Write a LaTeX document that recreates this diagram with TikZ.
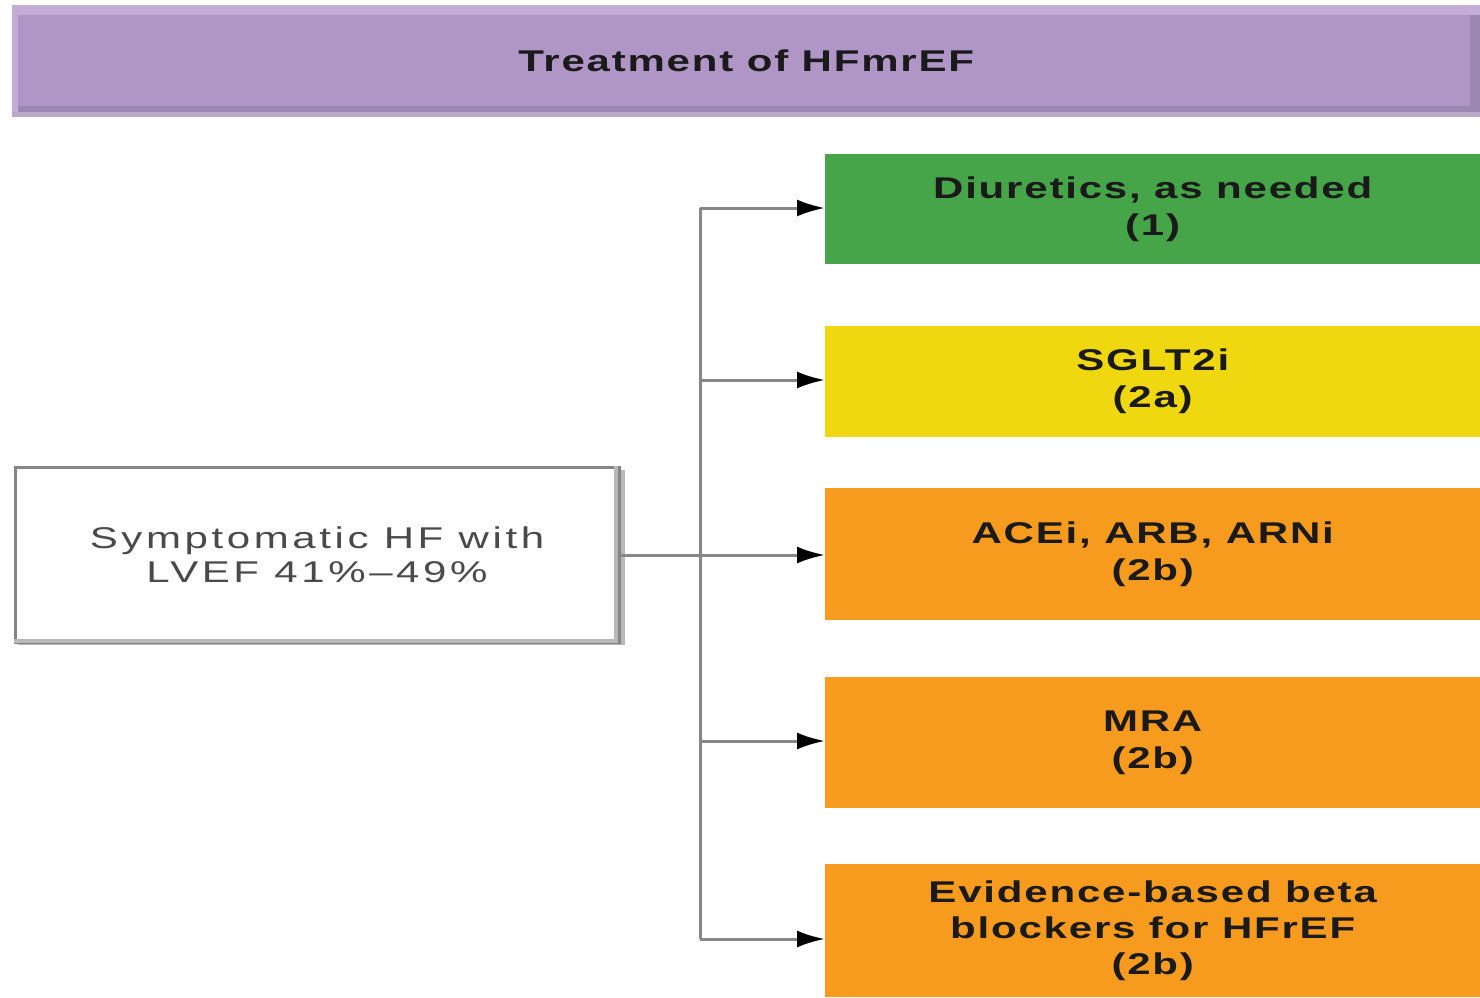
\documentclass[tikz,border=0pt]{standalone}
\usepackage{fontspec}
\setmainfont{Liberation Sans}[FakeStretch=1.4, LetterSpace=6]
\newfontfamily\plainfont{Liberation Sans}[FakeStretch=1.4, LetterSpace=12]
\usetikzlibrary{arrows.meta}

\definecolor{titlebg}{HTML}{AF96C7}
\definecolor{titlelight}{HTML}{C2ADD6}
\definecolor{titledark}{HTML}{9C86B2}
\definecolor{titlerim}{HTML}{B9A8CA}
\definecolor{recgreen}{HTML}{46A548}
\definecolor{recyellow}{HTML}{EFD80F}
\definecolor{recorange}{HTML}{F79B1F}
\definecolor{linkgray}{HTML}{878787}
\definecolor{edgegray}{HTML}{858585}
\definecolor{shadegray}{HTML}{B8B8B8}
\definecolor{inktext}{HTML}{1A1A1A}
\definecolor{softtext}{HTML}{4A4A4A}

\tikzset{
  recbox/.style={draw=none, anchor=north west, minimum width=655, inner sep=0,
    align=center, text=inktext, font=\fontsize{30}{37}\selectfont\bfseries},
  conn/.style={draw=linkgray, line width=3},
  arrowconn/.style={conn, -{Latex[length=28, width=17]}, arrows={[color=black]}}
}

\begin{document}
\begin{tikzpicture}[x=1pt, y=-1pt]
\useasboundingbox (0,0) rectangle (1480,997);

% heading bar
\node[fill=titlebg, draw=none, anchor=north west, minimum width=1468, minimum height=112,
  inner sep=0, text=inktext, font=\fontsize{30}{36}\selectfont\bfseries]
  (title) at (12,5) {Treatment of HFmrEF};
\fill[titlelight] (12,5) rectangle (1480,15);
\fill[titlelight] (12,5) rectangle (18,112);
\fill[titledark] (18,106) rectangle (1480,112);
\fill[titlerim] (12,112) rectangle (1480,117);
\fill[titledark] (1470,15) rectangle (1480,112);

% starting condition
\fill[shadegray] (18,637) rectangle (625,645);
\fill[shadegray] (616,470) rectangle (625,645);
\node[draw=edgegray, line width=3, fill=white, anchor=north west, minimum width=604,
  minimum height=175, inner sep=0, align=center, text=softtext,
  font=\fontsize{30}{34}\plainfont] (hf) at (13.5,465.5)
  {Symptomatic HF with\\LVEF 41\%–49\%};
\draw[shadegray, line width=4] (616,466) -- (616,641) -- (14,641);

% recommended therapies
\node[recbox, fill=recgreen, minimum height=110] (diur) at (825,154)
  {Diuretics, as needed\\(1)};
\node[recbox, fill=recyellow, minimum height=111] (sglt) at (825,326)
  {SGLT2i\\(2a)};
\node[recbox, fill=recorange, minimum height=132] (acei) at (825,488)
  {ACEi, ARB, ARNi\\(2b)};
\node[recbox, fill=recorange, minimum height=131] (mra) at (825,677)
  {MRA\\(2b)};
\node[recbox, fill=recorange, minimum height=133, font=\fontsize{30}{36}\selectfont\bfseries]
  (beta) at (825,864)
  {Evidence-based beta\\blockers for HFrEF\\(2b)};

% branching connectors
\coordinate (t1) at (700,208);
\coordinate (t2) at (700,380);
\coordinate (t3) at (700,555);
\coordinate (t4) at (700,741);
\coordinate (t5) at (700,939);

\draw[conn] (t1) -- (t5);
\draw[conn] (hf.east |- t3) -- (t3);
\draw[arrowconn] (t1) -- (t1 -| diur.west);
\draw[arrowconn] (t2) -- (t2 -| sglt.west);
\draw[arrowconn] (t3) -- (t3 -| acei.west);
\draw[arrowconn] (t4) -- (t4 -| mra.west);
\draw[arrowconn] (t5) -- (t5 -| beta.west);
\end{tikzpicture}
\end{document}
